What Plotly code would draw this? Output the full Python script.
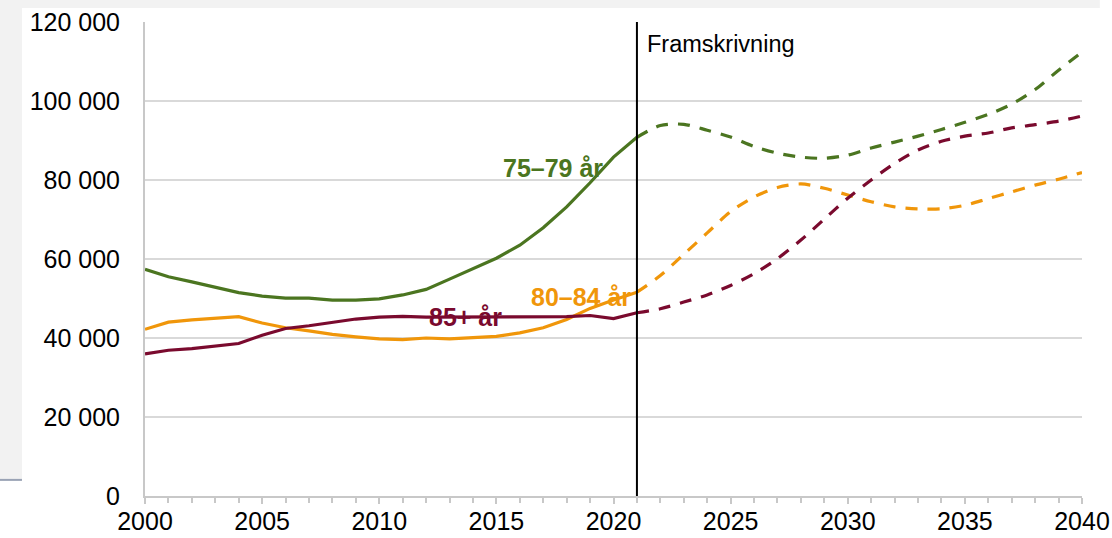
import plotly.graph_objects as go

# historik 2000-2021
years_hist = list(range(2000, 2022))
age_75_79 = [57400, 55500, 54200, 52900, 51500, 50600, 50100, 50100, 49600, 49600, 49900,
             50900, 52300, 54900, 57600, 60200, 63500, 67900, 73200, 79300, 85800, 90800]
age_80_84 = [42200, 44000, 44600, 45000, 45400, 43800, 42600, 41800, 40900, 40300, 39800,
             39600, 40000, 39800, 40000, 40400, 41300, 42600, 44700, 47500, 49600, 51600]
age_85 = [36000, 36900, 37300, 37900, 38600, 40700, 42400, 43100, 44000, 44800, 45300,
          45500, 45300, 45300, 45300, 45300, 45300, 45400, 45400, 45700, 44900, 46400]

# framskrivning 2021-2040
years_proj = list(range(2021, 2041))
proj_75_79 = [90800, 93800, 94100, 92600, 90900, 88500, 86800, 85800, 85500, 86300,
              88100, 89600, 91100, 92800, 94600, 96600, 99200, 102900, 107800, 112400]
proj_80_84 = [51600, 55800, 61200, 66600, 72000, 75700, 78100, 79000, 77900, 76200,
              74500, 73200, 72700, 72700, 73600, 75300, 77000, 78700, 80200, 81900]
proj_85 = [46400, 47400, 49100, 50900, 53300, 56300, 60100, 64800, 70100, 75400,
           80000, 84200, 87600, 89800, 91100, 91900, 93200, 94000, 94900, 96200]

y_ticks = [0, 20000, 40000, 60000, 80000, 100000, 120000]
x_ticks = [2000, 2005, 2010, 2015, 2020, 2025, 2030, 2035, 2040]

GREEN = '#4b7520'
ORANGE = '#f0960a'
MAROON = '#7a0a2e'
DASH = '12px,10px'

fig = go.Figure()

fig.add_trace(go.Scatter(x=years_hist, y=age_75_79, mode='lines', line=dict(color=GREEN, width=3.2)))
fig.add_trace(go.Scatter(x=years_hist, y=age_80_84, mode='lines', line=dict(color=ORANGE, width=3.2)))
fig.add_trace(go.Scatter(x=years_hist, y=age_85, mode='lines', line=dict(color=MAROON, width=3.2)))

fig.add_trace(go.Scatter(x=years_proj, y=proj_75_79, mode='lines',
                         line=dict(color=GREEN, width=3.2, dash=DASH, shape='spline', smoothing=0.8)))
fig.add_trace(go.Scatter(x=years_proj, y=proj_80_84, mode='lines',
                         line=dict(color=ORANGE, width=3.2, dash=DASH, shape='spline', smoothing=0.8)))
fig.add_trace(go.Scatter(x=years_proj, y=proj_85, mode='lines',
                         line=dict(color=MAROON, width=3.2, dash=DASH, shape='spline', smoothing=0.8)))

# etiketter
lab_font = dict(family='Liberation Sans, Arial', size=25, weight='bold')
fig.add_annotation(x=2017.4, y=83100, text='75–79 år', showarrow=False, font=dict(lab_font, color=GREEN))
fig.add_annotation(x=2018.6, y=50400, text='80–84 år', showarrow=False, font=dict(lab_font, color=ORANGE))
fig.add_annotation(x=2013.7, y=45300, text='85+ år', showarrow=False, font=dict(lab_font, color=MAROON))

# framskrivningslinje
fig.add_shape(type='line', x0=2021, x1=2021, y0=0, y1=1, xref='x', yref='paper',
              line=dict(color='black', width=2))
fig.add_annotation(x=2021, y=1, xref='x', yref='paper', text='Framskrivning', showarrow=False,
                   xanchor='left', yanchor='top', xshift=8, yshift=-7,
                   font=dict(family='Liberation Sans, Arial', size=23.5, color='black'))

# grå bakgrundsram
fig.add_shape(type='rect', xref='paper', yref='paper', x0=-0.16, x1=-0.1313, y0=0.034, y1=1.03,
              fillcolor='#f2f2f2', line_width=0, layer='below')
fig.add_shape(type='rect', xref='paper', yref='paper', x0=-0.16, x1=1.019, y0=1.0295, y1=1.06,
              fillcolor='#f2f2f2', line_width=0, layer='below')
fig.add_shape(type='line', xref='paper', yref='paper', x0=-0.16, x1=-0.1313, y0=0.034, y1=0.034,
              line=dict(color='#9aa3b5', width=2))

fig.update_layout(
    width=1112, height=538,
    separators=', ',
    showlegend=False,
    paper_bgcolor='white',
    plot_bgcolor='white',
    margin=dict(l=145, r=30, t=22, b=42),
    font=dict(family='Liberation Sans, Arial', size=25, color='black'),
    xaxis=dict(
        range=[2000, 2040],
        tickvals=x_ticks,
        automargin=False,
        showgrid=False,
        showline=True, linecolor='#c8c8c8', linewidth=2,
        ticks='outside', ticklen=6, tickcolor='#c8c8c8', tickwidth=2,
        ticklabelstandoff=-4,
        minor=dict(dtick=1, ticks='outside', ticklen=5, tickcolor='#c8c8c8', tickwidth=1.5),
        zeroline=False,
    ),
    yaxis=dict(
        range=[0, 120000],
        tickvals=y_ticks,
        tickformat=',d',
        automargin=False,
        showgrid=True, gridcolor='#d9d9d9', gridwidth=1.5,
        showline=True, linecolor='#c8c8c8', linewidth=2,
        ticks='', ticklabelstandoff=18,
        zeroline=False,
    ),
)

fig.write_html('out.html', config={'displayModeBar': False},
               post_script="document.body.style.margin='0';document.body.style.overflow='hidden';")
